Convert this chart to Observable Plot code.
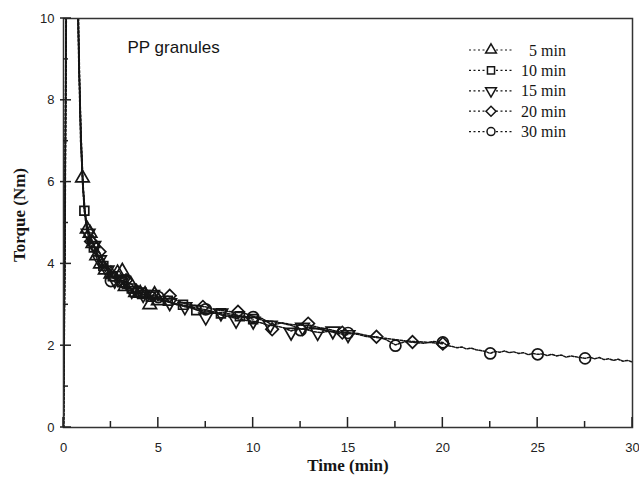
<!DOCTYPE html>
<html><head><meta charset="utf-8">
<script src="https://cdn.jsdelivr.net/npm/d3@7"></script>
<script src="https://cdn.jsdelivr.net/npm/@observablehq/plot@0.6"></script>
<style>body{margin:0;background:#fff}#chart{width:639px;height:480px}</style>
</head><body><div id="chart"></div>
<script>
// ---- data ----
const seriesNames = ["5 min", "10 min", "15 min", "20 min", "30 min"];
const xMajor = [0, 5, 10, 15, 20, 25, 30];
const xMinor = [2.5, 7.5, 12.5, 17.5, 22.5, 27.5];
const yMajor = [0, 2, 4, 6, 8, 10];
const yMinor = [1, 3, 5, 7, 9];

const line5 = [[0,0],[0.07,5],[0.15,11],[0.4,13],[0.7,11.5],[0.8,9],[0.9,7],[1.0,6.1],[1.1,5.4],[1.2,5.0],[1.3,4.8],[1.45,4.65],[1.6,4.45],[1.75,4.25],[1.9,4.08],[2.05,3.98],[2.2,3.9],[2.35,3.82],[2.5,3.75],[2.65,3.78],[2.8,3.8],[2.95,3.82],[3.1,3.7],[3.25,3.48],[3.4,3.45],[3.55,3.4],[3.7,3.32],[3.85,3.3],[4.0,3.28],[4.15,3.25],[4.3,3.22],[4.45,3.2],[4.6,3.1],[4.75,3.15],[4.9,3.12],[5.0,3.1]];
const line10 = [[0,0],[0.09,6],[0.18,12],[0.45,13.5],[0.72,11],[0.82,8.8],[0.92,7.2],[1.02,6.0],[1.1,5.3],[1.25,4.9],[1.4,4.7],[1.6,4.42],[1.8,4.2],[2.0,4.0],[2.25,3.88],[2.5,3.72],[2.75,3.62],[3.0,3.55],[3.25,3.46],[3.5,3.4],[3.75,3.33],[4.0,3.3],[4.3,3.24],[4.6,3.2],[4.9,3.14],[5.2,3.1],[5.5,3.08],[5.8,3.02],[6.1,3.0],[6.4,2.95],[6.7,2.93],[7.0,2.88],[7.3,2.86],[7.6,2.84],[7.9,2.8],[8.2,2.79],[8.5,2.76],[8.8,2.74],[9.1,2.72],[9.4,2.7],[9.7,2.68],[10.0,2.65]];
const line15 = [[0,0],[0.06,4.5],[0.14,10.8],[0.35,13.2],[0.68,11.8],[0.8,9.4],[0.88,7.6],[0.98,6.3],[1.08,5.5],[1.2,5.0],[1.35,4.75],[1.5,4.55],[1.7,4.38],[1.9,4.12],[2.1,3.98],[2.35,3.84],[2.6,3.66],[2.85,3.58],[3.1,3.6],[3.4,3.38],[3.7,3.3],[4.0,3.27],[4.4,3.22],[4.8,3.18],[5.2,3.1],[5.6,3.06],[6.0,3.0],[6.4,2.97],[6.8,2.92],[7.2,2.84],[7.6,2.78],[8.0,2.8],[8.4,2.74],[8.8,2.7],[9.2,2.66],[9.6,2.62],[10.0,2.6],[10.4,2.56],[10.8,2.5],[11.2,2.48],[11.6,2.44],[12.0,2.36],[12.4,2.42],[12.8,2.4],[13.2,2.34],[13.6,2.32],[14.0,2.36],[14.4,2.3],[14.8,2.28],[15.0,2.27]];
const line20 = [[0,0],[0.08,5.5],[0.16,11.5],[0.5,13.6],[0.74,10.8],[0.84,8.6],[0.94,7.0],[1.04,5.9],[1.15,5.2],[1.3,4.8],[1.5,4.52],[1.7,4.38],[1.9,4.28],[2.1,4.1],[2.4,3.9],[2.7,3.72],[3.0,3.6],[3.3,3.56],[3.6,3.5],[3.9,3.34],[4.2,3.3],[4.6,3.24],[5.0,3.2],[5.5,3.21],[6.0,3.1],[6.5,3.02],[7.0,2.98],[7.5,2.95],[8.0,2.88],[8.5,2.85],[9.0,2.82],[9.5,2.8],[10.0,2.72],[10.5,2.66],[11.0,2.5],[11.5,2.56],[12.0,2.52],[12.5,2.5],[13.0,2.5],[13.5,2.44],[14.0,2.4],[14.5,2.34],[15.0,2.32],[15.5,2.3],[16.0,2.25],[16.5,2.2],[17.0,2.18],[17.5,2.15],[18.0,2.12],[18.5,2.1],[19.0,2.09],[19.5,2.07],[20.0,2.05]];
const line30 = [[0,0],[0.08,4],[0.15,11],[0.3,13],[0.6,13],[0.78,10.5],[0.85,8.5],[0.92,7],[1.0,6.0],[1.1,5.3],[1.2,4.9],[1.35,4.6],[1.5,4.4],[1.7,4.2],[1.9,4.0],[2.1,3.9],[2.3,3.75],[2.5,3.6],[2.75,3.55],[3.0,3.45],[3.25,3.4],[3.5,3.3],[3.75,3.28],[4.0,3.22],[4.5,3.15],[5.0,3.18],[5.5,3.08],[6.0,3.02],[6.5,2.98],[7.0,2.92],[7.5,2.88],[8.0,2.82],[8.5,2.8],[9.0,2.76],[9.5,2.72],[10,2.7],[10.5,2.62],[11,2.6],[11.5,2.55],[12,2.5],[12.5,2.4],[13,2.46],[13.5,2.4],[14,2.36],[14.5,2.33],[15,2.3],[15.5,2.28],[16,2.22],[16.5,2.22],[17,2.15],[17.5,2.02],[18,2.1],[18.5,2.08],[19,2.06],[19.5,2.1],[20,2.08],[20.25,2.0],[20.5,1.98],[20.75,1.95],[21,1.97],[21.25,1.92],[21.5,1.94],[21.75,1.9],[22,1.88],[22.25,1.86],[22.5,1.81],[22.75,1.86],[23,1.84],[23.25,1.87],[23.5,1.83],[23.75,1.85],[24,1.81],[24.25,1.83],[24.5,1.78],[24.75,1.81],[25,1.79],[25.25,1.8],[25.5,1.76],[25.75,1.79],[26,1.75],[26.25,1.77],[26.5,1.72],[26.75,1.75],[27,1.73],[27.25,1.71],[27.5,1.69],[27.75,1.72],[28,1.68],[28.25,1.71],[28.5,1.66],[28.75,1.68],[29,1.64],[29.25,1.67],[29.5,1.62],[29.75,1.64],[30,1.6]];

const pts5 = [[1.0,6.1],[1.25,4.85],[1.4,4.75],[1.55,4.5],[1.75,4.2],[1.95,4.0],[2.2,3.85],[2.5,3.75],[2.85,3.78],[3.1,3.82],[3.25,3.45],[3.55,3.5],[3.8,3.3],[4.05,3.28],[4.3,3.25],[4.55,3.0],[4.8,3.25],[5.0,3.1]];
const pts10 = [[1.1,5.3],[1.6,4.4],[2.1,3.95],[2.6,3.7],[3.1,3.55],[3.6,3.4],[4.1,3.3],[4.6,3.2],[5.5,3.1],[6.3,3.0],[7.0,2.87],[8.3,2.79],[9.3,2.72],[10.0,2.65]];
const pts15 = [[1.3,4.75],[1.6,4.45],[1.9,4.1],[2.3,3.85],[2.7,3.6],[3.1,3.6],[3.6,3.35],[4.2,3.25],[4.7,3.25],[5.6,3.05],[6.4,2.95],[7.5,2.7],[8.3,2.8],[9.1,2.62],[10.0,2.6],[10.9,2.5],[12.0,2.33],[12.6,2.45],[13.4,2.32],[14.2,2.36],[15.0,2.27]];
const pts20 = [[1.45,4.55],[1.9,4.3],[3.3,3.6],[3.9,3.32],[5.6,3.22],[7.35,2.95],[9.2,2.83],[11.0,2.4],[12.9,2.54],[14.7,2.32],[16.5,2.22],[18.4,2.09],[20.0,2.05]];
const pts30 = [[2.5,3.58],[5.0,3.19],[7.5,2.89],[10.0,2.7],[12.5,2.38],[15.0,2.31],[17.5,2.0],[20.0,2.08],[22.5,1.81],[25.0,1.79],[27.5,1.69]];

const lines = [line5, line10, line15, line20, line30];
const points = [pts5, pts10, pts15, pts20, pts30];
const symbols = ["triangle", "square", "triangle", "square", "circle"];
const rotations = [0, 0, 180, 45, 0];
const radii = [5, 5, 5, 5, 5.5];

// ---- chart ----
const ink = "#151515";
const W = 639, H = 480, mL = 63, mR = 7, mT = 18, mB = 53;
const marks = [];
lines.forEach(L => marks.push(Plot.line(L, {x: d => d[0], y: d => d[1], stroke: ink, strokeWidth: 1.5, strokeDasharray: "2.5,1.5", clip: true})));
points.forEach((P, i) => marks.push(Plot.dot(P, {x: d => d[0], y: d => d[1], symbol: symbols[i], rotate: rotations[i], r: radii[i], stroke: ink, strokeWidth: 1.7, fill: "none"})));
marks.push(
  Plot.frame({stroke: "#333", strokeWidth: 1.5}),
  Plot.axisX({ticks: xMajor, tickSize: 0, tickPadding: 15, label: null, fontSize: 13}),
  Plot.axisY({ticks: yMajor, tickSize: 0, tickPadding: 9, label: null, fontSize: 13}),
  Plot.text(["Time (min)"], {frameAnchor: "bottom", dy: 43, fontFamily: "Liberation Serif", fontWeight: "bold", fontSize: 17, fill: ink}),
  Plot.text(["Torque (Nm)"], {frameAnchor: "left", textAnchor: "middle", dx: -44, dy: -8, rotate: -90, fontFamily: "Liberation Serif", fontWeight: "bold", fontSize: 17, fill: ink}),
  Plot.text(["PP granules"], {frameAnchor: "top-left", dx: 64, dy: 22, textAnchor: "start", fontFamily: "Liberation Sans", fontSize: 17, fill: ink})
);

const plot = Plot.plot({
  width: W, height: H,
  marginLeft: mL, marginRight: mR, marginTop: mT, marginBottom: mB,
  x: {domain: [0, 30]},
  y: {domain: [0, 10]},
  style: {fontFamily: "Liberation Sans", fontSize: "13px", color: "#222", background: "white"},
  marks
});
document.getElementById("chart").appendChild(plot);

// ---- inward tick marks, positioned with Plot's scales ----
const sx = plot.scale("x"), sy = plot.scale("y");
const NS = "http://www.w3.org/2000/svg";
function addLine(x1, y1, x2, y2) {
  const el = document.createElementNS(NS, "path");
  el.setAttribute("d", `M${x1},${y1}L${x2},${y2}`);
  el.setAttribute("stroke", "#222");
  el.setAttribute("stroke-width", "1.5");
  el.setAttribute("fill", "none");
  plot.appendChild(el);
}
const yb = sy.apply(0), xl = sx.apply(0);
xMajor.forEach(v => addLine(sx.apply(v), yb, sx.apply(v), yb - 10));
xMinor.forEach(v => addLine(sx.apply(v), yb, sx.apply(v), yb - 6));
yMajor.forEach(v => addLine(xl - 3, sy.apply(v), xl + 8, sy.apply(v)));
yMinor.forEach(v => addLine(xl, sy.apply(v), xl + 5, sy.apply(v)));

// ---- legend ----
const d3sym = {triangle: d3.symbolTriangle, square: d3.symbolSquare, circle: d3.symbolCircle};
const lg = d3.select(plot).append("g");
seriesNames.forEach((name, i) => {
  const y = 50 + i * 20.4;
  lg.append("line").attr("x1", 469).attr("x2", 512).attr("y1", y).attr("y2", y)
    .attr("stroke", ink).attr("stroke-width", 1.2).attr("stroke-dasharray", "2,2.5");
  lg.append("path").attr("d", d3.symbol(d3sym[symbols[i]], Math.PI * 16)())
    .attr("transform", `translate(491,${y}) rotate(${rotations[i]})`)
    .attr("fill", "white").attr("stroke", ink).attr("stroke-width", 1.5);
  lg.append("text").attr("x", 566).attr("y", y).attr("dy", "0.35em").attr("text-anchor", "end")
    .attr("font-family", "Liberation Serif").attr("font-size", 16).attr("fill", ink).text(name);
});
</script></body></html>
